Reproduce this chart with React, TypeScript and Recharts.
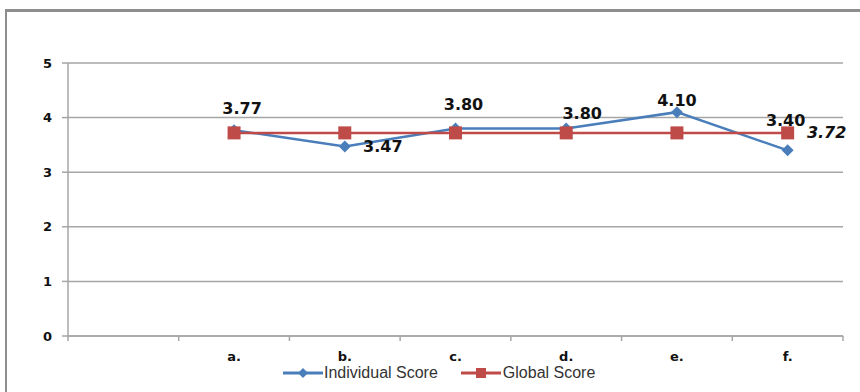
import React from 'react';
import { LineChart, Line, XAxis, YAxis, CartesianGrid, LabelList, Legend } from 'recharts';

const categories = ['', 'a.', 'b.', 'c.', 'd.', 'e.', 'f.'];
const individualScore = [null, 3.77, 3.47, 3.8, 3.8, 4.1, 3.4];
const globalScore = [null, 3.72, 3.72, 3.72, 3.72, 3.72, 3.72];
const yTicks = [0, 1, 2, 3, 4, 5];

const data = categories.map((c, i) => ({
  idx: i,
  cat: c,
  individual: individualScore[i],
  global: globalScore[i],
}));
const boundaryTicks = categories.map((_, i) => i - 0.5).concat([categories.length - 0.5]);
const labelTicks = categories.map((_, i) => i).filter((i) => categories[i] !== '');

// label offsets relative to the point (style only)
const indLabelOffsets = [
  [0, 0],
  [8, -22],
  [38, 0],
  [8, -24],
  [16, -15],
  [0, -12],
  [-2, -30],
];

const BLUE = '#4A7EBB';
const RED = '#BE4B48';
const GRID = '#A6A6A6';
const LABEL_FONT = "'DejaVu Sans', sans-serif";

const Diamond = (props: any) => {
  const { cx, cy, r = 6, fill } = props;
  if (cx == null || cy == null) return null;
  return <path d={`M${cx},${cy - r}L${cx + r},${cy}L${cx},${cy + r}L${cx - r},${cy}Z`} fill={fill} />;
};

const Square = (props: any) => {
  const { cx, cy, s = 13, fill } = props;
  if (cx == null || cy == null) return null;
  return <rect x={cx - s / 2} y={cy - s / 2} width={s} height={s} fill={fill} />;
};

const IndLabel = (p: any) => {
  const { x, y, value, index } = p;
  if (value == null || x == null || y == null) return null;
  const off = indLabelOffsets[index] || [0, -20];
  return (
    <text
      x={x + off[0]}
      y={y + off[1]}
      textAnchor="middle"
      dominantBaseline="central"
      fontFamily={LABEL_FONT}
      fontWeight="bold"
      fontSize={16}
      fill="#111"
    >
      {Number(value).toFixed(2)}
    </text>
  );
};

const GlobLabel = (p: any) => {
  const { x, y, value, index } = p;
  if (value == null || x == null || y == null) return null;
  if (index !== categories.length - 1) return null;
  return (
    <text
      x={x + 39}
      y={y}
      textAnchor="middle"
      dominantBaseline="central"
      fontFamily={LABEL_FONT}
      fontWeight="bold"
      fontStyle="italic"
      fontSize={16}
      fill="#111"
    >
      {Number(value).toFixed(2)}
    </text>
  );
};

const LegendContent = () => (
  <div
    style={{
      display: 'flex',
      alignItems: 'center',
      fontFamily: "'Liberation Sans', Arial, sans-serif",
      fontSize: 16,
      color: '#333',
      whiteSpace: 'nowrap',
    }}
  >
    <svg width={40} height={14} style={{ display: 'block' }}>
      <line x1={0} y1={7} x2={40} y2={7} stroke={BLUE} strokeWidth={3} />
      <path d="M20,2L25,7L20,12L15,7Z" fill={BLUE} />
    </svg>
    <span style={{ marginLeft: 1 }}>Individual Score</span>
    <svg width={40} height={14} style={{ display: 'block', marginLeft: 23 }}>
      <line x1={0} y1={7} x2={40} y2={7} stroke={RED} strokeWidth={3} />
      <rect x={15} y={2} width={10} height={10} fill={RED} />
    </svg>
    <span style={{ marginLeft: 2 }}>Global Score</span>
  </div>
);

export default function App() {
  return (
    <div
      style={{
        position: 'absolute',
        left: 0,
        top: 0,
        width: 860,
        height: 392,
        overflow: 'hidden',
        background: '#fff',
      }}
    >
      <div
        style={{
          position: 'absolute',
          left: 5,
          top: 9,
          width: 900,
          height: 420,
          borderTop: '3px solid #8E8E8E',
          borderLeft: '2px solid #8E8E8E',
        }}
      />
      <div style={{ position: 'absolute', left: 0, top: 0 }}>
        <LineChart
          width={860}
          height={392}
          data={data}
          margin={{ top: 63, right: 17, left: 0, bottom: 20 }}
        >
          <CartesianGrid vertical={false} stroke={GRID} strokeWidth={1.5} />
          <XAxis
            dataKey="idx"
            type="number"
            domain={[-0.5, categories.length - 0.5]}
            ticks={boundaryTicks}
            tickFormatter={() => ''}
            stroke={GRID}
            strokeWidth={1.5}
            tickSize={5}
            height={6}
            interval={0}
            allowDataOverflow
          />
          <XAxis
            xAxisId="cat"
            dataKey="idx"
            type="number"
            domain={[-0.5, categories.length - 0.5]}
            ticks={labelTicks}
            tickFormatter={(v: number) => categories[v]}
            axisLine={false}
            tickLine={false}
            tickSize={0}
            tickMargin={10}
            height={30}
            interval={0}
            allowDataOverflow
            tick={{ fontFamily: LABEL_FONT, fontWeight: 'bold', fontSize: 13, fill: '#111' }}
          />
          <YAxis
            domain={[0, 5]}
            ticks={yTicks}
            width={68}
            stroke={GRID}
            strokeWidth={1.5}
            tickSize={6}
            tickMargin={10}
            interval={0}
            tick={{ fontFamily: LABEL_FONT, fontWeight: 'bold', fontSize: 13, fill: '#111' }}
          />
          <Legend
            layout="horizontal"
            verticalAlign="middle"
            align="center"
            content={<LegendContent />}
            wrapperStyle={{ left: 283, top: 364, width: 340, height: 18 }}
          />
          <Line
            dataKey="individual"
            stroke={BLUE}
            strokeWidth={2.5}
            dot={(p: any) => <Diamond key={`d${p.index}`} cx={p.cx} cy={p.cy} r={6} fill={BLUE} />}
            activeDot={false}
            isAnimationActive={false}
            legendType="diamond"
            name="Individual Score"
          >
            <LabelList dataKey="individual" content={<IndLabel />} />
          </Line>
          <Line
            dataKey="global"
            stroke={RED}
            strokeWidth={2.5}
            dot={(p: any) => <Square key={`s${p.index}`} cx={p.cx} cy={p.cy} s={13} fill={RED} />}
            activeDot={false}
            isAnimationActive={false}
            legendType="square"
            name="Global Score"
          >
            <LabelList dataKey="global" content={<GlobLabel />} />
          </Line>
        </LineChart>
      </div>
    </div>
  );
}
